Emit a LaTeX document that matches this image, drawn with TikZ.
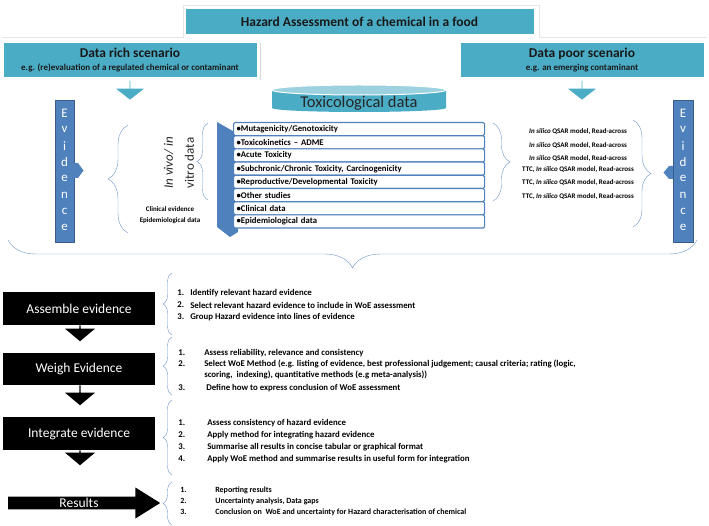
\documentclass[tikz,border=0pt]{standalone}
\usepackage{fontspec}
\setmainfont{Carlito}
\usepackage{tikz}
\usetikzlibrary{shapes.geometric, shapes.arrows}
\usetikzlibrary{decorations.pathreplacing}
\usetikzlibrary{positioning}
\usetikzlibrary{calc}

\definecolor{aqua}{HTML}{4BACC6}
\definecolor{evblue}{HTML}{4F81BD}
\definecolor{evdark}{HTML}{385D8A}
\definecolor{bracecol}{HTML}{6B95C8}

\begin{document}
\begin{tikzpicture}[>=latex,
                    x = 1pt, y = -1pt,
                    semithick,
                    aquabox/.style = {fill = aqua, draw = white, line width = 1pt, inner sep = 0pt, align = center, text = black!90},
                    aquaarrow/.style = {single arrow, shape border rotate = 270, fill = aqua, draw = white, line width = .8pt, inner sep = 0pt,
                                        minimum height = 20pt, minimum width = 31pt, single arrow head extend = 7.5pt, single arrow tip angle = 104},
                    evbox/.style = {fill = evblue, draw = evdark, thin, minimum width = 19.5pt, minimum height = 142pt, inner sep = 0pt},
                    evletter/.style = {text = white, inner sep = 0pt, font = \fontsize{13}{15}\selectfont},
                    rowbox/.style = {anchor = west, draw = evblue, line width = 1.2pt, fill = white, rounded corners = 1.5pt,
                                     minimum height = 13.2pt, text width = 245pt, align = left, inner xsep = 3pt, inner ysep = 0pt,
                                     font = \fontsize{8.7}{10}\bfseries},
                    curl/.style = {draw = bracecol, thin, decorate, decoration = {brace, amplitude = #1}},
                    smalltext/.style = {inner sep = 0pt, font = \fontsize{7}{8}\bfseries},
                    stepbox/.style = {fill = black, text = white, minimum width = 152pt, inner sep = 0pt, font = \fontsize{13.5}{16}\selectfont},
                    downblack/.style = {single arrow, shape border rotate = 270, fill = black, inner sep = 0pt, minimum width = 30pt,
                                        single arrow head extend = 7pt, single arrow tip angle = 100, minimum height = #1},
                    itemtext/.style = {anchor = west, inner sep = 0pt, font = \fontsize{8.8}{10}\bfseries}]
    \useasboundingbox (0,0) rectangle (709,526);

    % Draw the scenario boxes at the top:
    \draw [gray!20, line width = 1pt] (2,38) -- (183,38) -- (183,6) -- (539,6) -- (539,38) -- (707,38);
    \draw [gray!30, line width = 1pt] (260,43) -- (260,80);
    \node [aquabox, minimum width = 349pt, minimum height = 26pt] (title) at (359.5,22)
        {\fontsize{13.5}{16}\bfseries Hazard Assessment of a chemical in a food};
    \node [aquabox, minimum width = 254pt, minimum height = 35pt] (rich) at (130,60.5)
        {{\fontsize{13.5}{16}\bfseries Data rich scenario}\\[1pt]{\fontsize{9}{10}\bfseries e.g. (re)evaluation of a regulated chemical or contaminant}};
    \node [aquabox, minimum width = 244pt, minimum height = 35pt] (poor) at (582,60.5)
        {{\fontsize{13.5}{16}\bfseries Data poor scenario}\\[1pt]{\fontsize{9}{10}\bfseries e.g. an emerging contaminant}};
    \node [aquaarrow] (richarrow) at (130,90) {};
    \node [aquaarrow] (poorarrow) at (582,90) {};

    % Draw the toxicological data can and its list:
    \fill [aqua] (272,90) -- (272,108) arc [start angle = 180, end angle = 0, x radius = 87, y radius = 4] -- (446,90) -- cycle;
    \filldraw [fill = aqua!55, draw = white, line width = 1pt] (359,90) ellipse [x radius = 87, y radius = 5];
    \node [text = black!85, inner sep = 0pt, font = \fontsize{16.5}{18}\selectfont] (toxlabel) at (359,103.5) {Toxicological data};
    \fill [evblue] (217,122) -- (238,134) -- (238,232) -- (230,237) -- (217,227) -- cycle;
    \foreach \txt [count = \k] in {Mutagenicity/Genotoxicity, Toxicokinetics -- ADME, Acute Toxicity,
                                   {Subchronic/Chronic Toxicity, Carcinogenicity}, Reproductive/Developmental Toxicity,
                                   Other studies, Clinical data, Epidemiological data}
        \node [rowbox] (row\k) at (233,{122.5+13.2*(\k-0.5)}) {\textbullet\txt};

    % Draw the evidence bars on both sides:
    \node [evbox] (evleft) at (64.5,171) {};
    \node [evbox] (evright) at (683,171) {};
    \foreach \letter [count = \k] in {E,v,i,d,e,n,c,e} {
        \node [evletter] (evL\k) at (64.5,{113+16.4*(\k-1)}) {\letter};
        \node [evletter] (evR\k) at (683,{113+16.4*(\k-1)}) {\letter};
    }
    \fill [evblue] (74,163) -- (78,163) -- (83.5,170.5) -- (78,178) -- (74,178) -- cycle;
    \fill [evblue] (673,166) -- (669,166) -- (663.5,172.5) -- (669,179) -- (673,179) -- cycle;

    % Draw the left side (in vivo / clinical):
    \draw [curl = 20pt] (128,233) -- (128,125);
    \draw [curl = 11pt] (208,200) -- (208,123);
    \node [rotate = 90, align = center, inner sep = 0pt, text = black!85, font = \fontsize{13}{21}\selectfont] (invivo) at (179,163)
        {\textit{In vivo/ in}\\vitro data};
    \node [smalltext] (clinical) at (170,209) {Clinical evidence};
    \node [smalltext] (epidem) at (170,221) {Epidemiological data};

    % Draw the right side (in silico):
    \draw [curl = 17pt] (493,123) -- (493,201);
    \draw [curl = 18pt] (633,120) -- (633,227);
    \foreach \pre/\yy [count = \k] in {/132, /146, /159, {TTC, }/170, {TTC, }/183, {TTC, }/197}
        \node [smalltext] (silico\k) at (578,\yy) {\pre\textit{In silico} QSAR model, Read-across};

    % Draw the big brace over the workflow:
    \draw [curl = 28pt] (697,240) -- (8,240);

    % Draw the workflow steps:
    \node [stepbox, minimum height = 33pt] (assemble) at (79,308.5) {Assemble evidence};
    \node [stepbox, minimum height = 32pt] (weigh) at (79,369) {Weigh Evidence};
    \node [stepbox, minimum height = 33pt] (integrate) at (79,433.5) {Integrate evidence};
    \node [single arrow, fill = black, text = white, inner sep = 0pt, minimum height = 152pt, minimum width = 31pt,
           single arrow head extend = 7pt, single arrow tip angle = 64, font = \fontsize{13.5}{16}\selectfont] (results) at (79,503) {Results};
    \node [downblack = 16pt] (arrow1) at (80,333) {};
    \node [downblack = 20pt] (arrow2) at (80,395) {};
    \node [downblack = 15pt] (arrow3) at (80,457.5) {};

    % Draw the step braces and their items:
    \draw [curl = 9pt] (172,335) -- (172,273);
    \draw [curl = 9pt] (172,395) -- (172,337);
    \draw [curl = 9pt] (172,475) -- (172,400);
    \draw [curl = 9pt] (172,525) -- (172,482);

    \foreach \n/\yy/\txt [count = \k] in {1./293/Identify relevant hazard evidence,
                                          2./305/Select relevant hazard evidence to include in WoE assessment,
                                          3./317/Group Hazard evidence into lines of evidence} {
        \node [itemtext] (assnum\k) at (177,\yy) {\n};
        \node [itemtext] (assitem\k) at (190,\yy) {\txt};
    }
    \foreach \n/\yy/\txt [count = \k] in {1./353/{Assess reliability, relevance and consistency},
                                          2./364/{Select WoE Method (e.g. listing of evidence, best professional judgement; causal criteria; rating (logic,},
                                          /375/{scoring,\ \ indexing), quantitative methods (e.g meta-analysis))},
                                          3./388/{\ Define how to express conclusion of WoE assessment}} {
        \node [itemtext] (weinum\k) at (178,\yy) {\n};
        \node [itemtext] (weiitem\k) at (204,\yy) {\txt};
    }
    \foreach \n/\yy/\txt [count = \k] in {1./423/Assess consistency of hazard evidence,
                                          2./435/Apply method for integrating hazard evidence,
                                          3./447/Summarise all results in concise tabular or graphical format,
                                          4./459/Apply WoE method and summarise results in useful form for integration} {
        \node [itemtext] (intnum\k) at (178,\yy) {\n};
        \node [itemtext] (intitem\k) at (207,\yy) {\txt};
    }
    \foreach \n/\yy/\txt [count = \k] in {1./490/Reporting results,
                                          2./501/{Uncertainty analysis, Data gaps},
                                          3./512/Conclusion on\ \ WoE and uncertainty for Hazard characterisation of chemical} {
        \node [itemtext, font = \fontsize{8}{9}\bfseries] (resnum\k) at (180,\yy) {\n};
        \node [itemtext, font = \fontsize{8}{9}\bfseries] (resitem\k) at (215,\yy) {\txt};
    }
\end{tikzpicture}
\end{document}
